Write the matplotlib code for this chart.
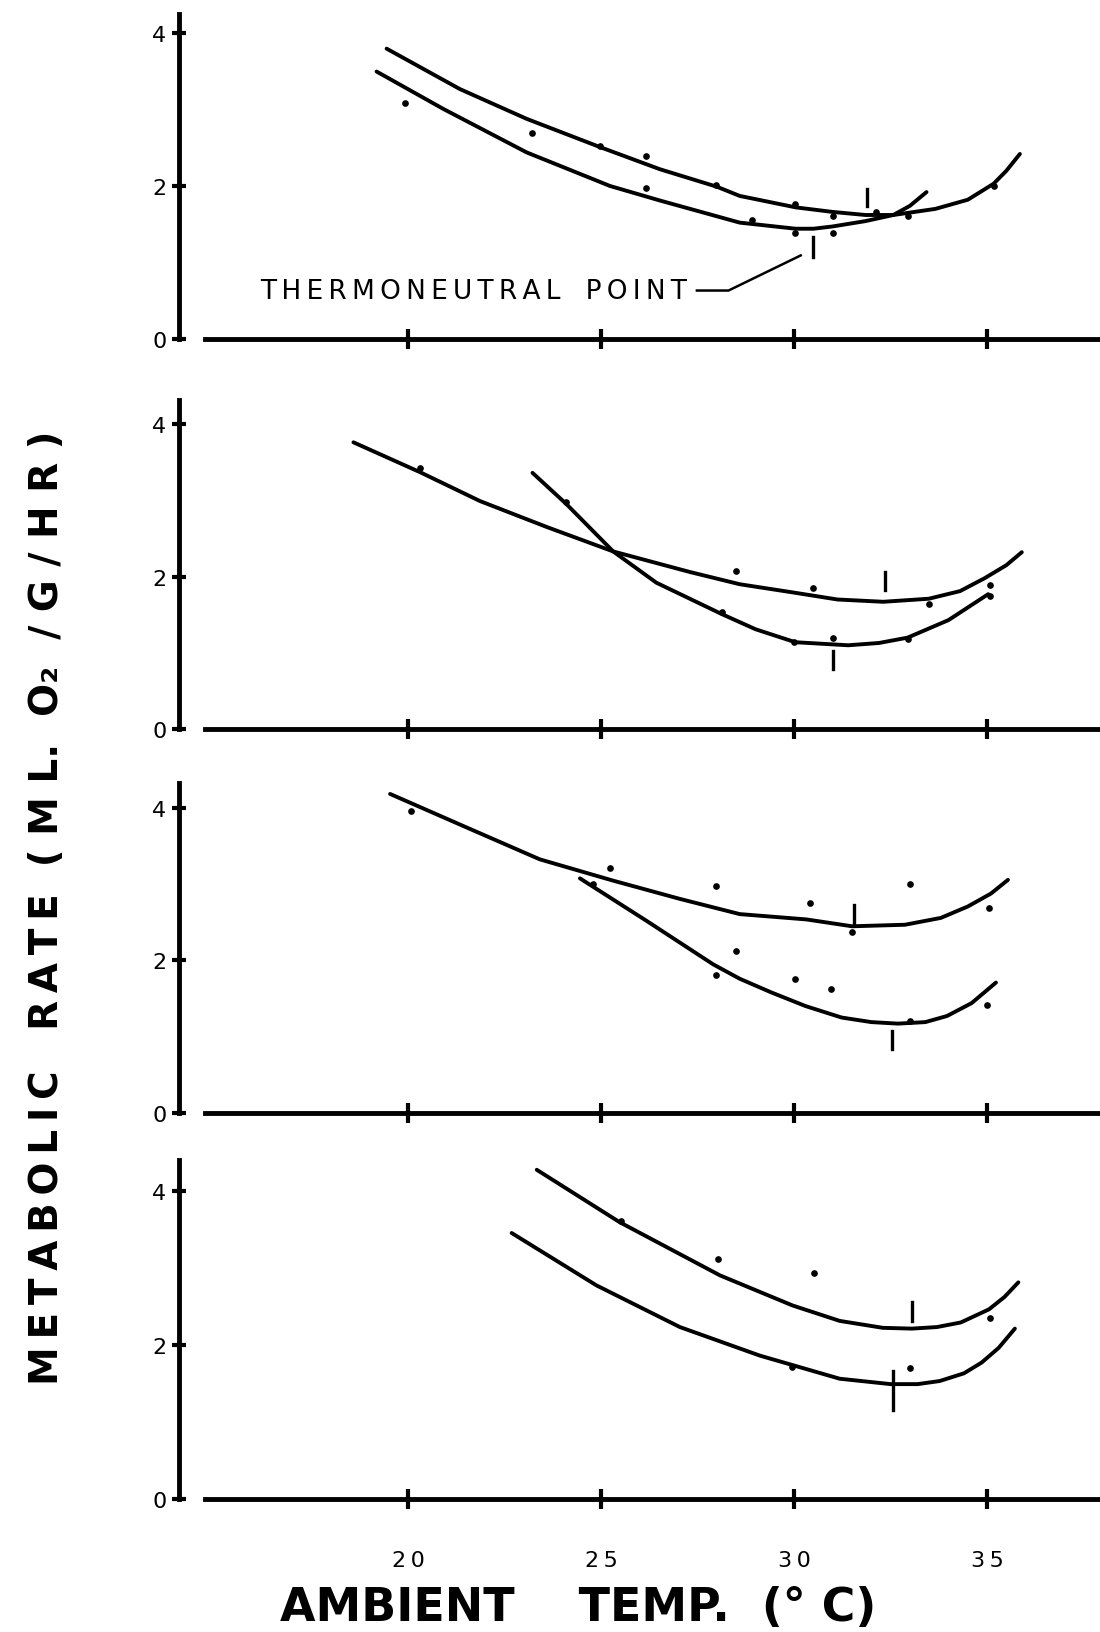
import numpy as np
import matplotlib
matplotlib.use("Agg")
from matplotlib import pyplot as plt

plt.rcParams['font.family'] = ['DejaVu Sans']

# x ticks shared by every panel
x_ticks = [20, 25, 30, 35]
x_tick_labels = ["20", "25", "30", "35"]
y_ticks = [0, 2, 4]

# panel 1 (top)
p1_upper_x = [19.44, 21.34, 23.07, 24.97, 26.52, 28.0, 28.59, 30.04, 31.0, 31.85, 32.57, 33.66, 34.5, 35.17, 35.5, 35.85]
p1_upper_y = [3.80, 3.27, 2.88, 2.51, 2.22, 1.99, 1.87, 1.72, 1.66, 1.62, 1.62, 1.70, 1.82, 2.03, 2.20, 2.42]
p1_lower_x = [19.18, 20.91, 23.07, 25.23, 26.52, 28.59, 30.04, 30.5, 31.0, 31.85, 32.57, 33.0, 33.43]
p1_lower_y = [3.50, 3.01, 2.44, 2.00, 1.81, 1.52, 1.44, 1.44, 1.47, 1.54, 1.62, 1.74, 1.92]
p1_pts_x = [19.91, 23.21, 24.98, 26.15, 26.16, 27.97, 28.9, 30.02, 30.02, 31.0, 31.0, 32.12, 32.94, 35.17]
p1_pts_y = [3.09, 2.70, 2.53, 2.39, 1.98, 2.01, 1.55, 1.76, 1.39, 1.61, 1.39, 1.66, 1.61, 2.00]
p1_tn_x = [31.9, 30.5]
p1_tn_lo = [1.74, 1.07]
p1_tn_hi = [1.96, 1.33]

# panel 2
p2_long_x = [18.58, 20.30, 21.86, 23.59, 25.31, 27.30, 28.59, 30.0, 31.12, 32.31, 33.49, 34.3, 34.94, 35.5, 35.9]
p2_long_y = [3.76, 3.37, 2.99, 2.65, 2.33, 2.06, 1.90, 1.79, 1.70, 1.67, 1.71, 1.81, 1.98, 2.15, 2.32]
p2_steep_x = [23.22, 24.10, 25.31, 26.43, 28.12, 29.0, 30.03, 31.4, 32.2, 32.94, 34.0, 35.03]
p2_steep_y = [3.36, 2.95, 2.33, 1.92, 1.51, 1.31, 1.14, 1.10, 1.13, 1.20, 1.43, 1.77]
p2_pts_x = [20.30, 24.09, 28.49, 30.49, 28.13, 30.0, 31.02, 32.95, 33.5, 35.07, 35.07]
p2_pts_y = [3.42, 2.98, 2.07, 1.85, 1.53, 1.14, 1.20, 1.18, 1.64, 1.89, 1.75]
p2_tn_x = [32.35, 31.02]
p2_tn_lo = [1.82, 0.79]
p2_tn_hi = [2.06, 1.03]

# panel 3
p3_upper_x = [19.53, 21.6, 23.41, 25.31, 27.04, 28.59, 30.32, 31.5, 32.87, 33.8, 34.5, 35.1, 35.54]
p3_upper_y = [4.19, 3.73, 3.33, 3.05, 2.81, 2.61, 2.54, 2.45, 2.47, 2.56, 2.71, 2.88, 3.06]
p3_lower_x = [24.45, 26.18, 27.9, 28.59, 29.41, 30.3, 31.23, 32.0, 32.69, 33.4, 33.96, 34.6, 35.23]
p3_lower_y = [3.08, 2.52, 1.95, 1.76, 1.58, 1.40, 1.25, 1.19, 1.17, 1.19, 1.27, 1.44, 1.71]
p3_pts_x = [20.06, 25.24, 24.79, 27.97, 30.41, 33.01, 35.05, 31.5, 28.49, 27.97, 30.01, 30.95, 33.01, 35.01]
p3_pts_y = [3.97, 3.21, 3.01, 2.98, 2.76, 3.01, 2.69, 2.38, 2.13, 1.81, 1.76, 1.62, 1.21, 1.41]
p3_tn_x = [31.54, 32.53]
p3_tn_lo = [2.49, 0.83]
p3_tn_hi = [2.73, 1.07]

# panel 4 (bottom)
p4_upper_x = [23.33, 25.48, 28.08, 29.96, 31.18, 32.3, 33.05, 33.7, 34.32, 35.05, 35.45, 35.81]
p4_upper_y = [4.27, 3.59, 2.90, 2.51, 2.31, 2.22, 2.21, 2.23, 2.29, 2.46, 2.62, 2.81]
p4_lower_x = [22.68, 24.88, 27.04, 29.11, 31.18, 32.5, 33.2, 33.77, 34.4, 34.86, 35.3, 35.72]
p4_lower_y = [3.45, 2.77, 2.23, 1.86, 1.56, 1.49, 1.49, 1.53, 1.63, 1.77, 1.96, 2.21]
p4_pts_x = [25.51, 28.02, 30.52, 35.08, 33.01, 29.94]
p4_pts_y = [3.61, 3.11, 2.93, 2.35, 1.70, 1.71]
p4_tn_x = [33.05, 32.55]
p4_tn_lo = [2.31, 1.15]
p4_tn_hi = [2.55, 1.66]

panels = [
    ([(p1_upper_x, p1_upper_y), (p1_lower_x, p1_lower_y)], (p1_pts_x, p1_pts_y), (p1_tn_x, p1_tn_lo, p1_tn_hi)),
    ([(p2_long_x, p2_long_y), (p2_steep_x, p2_steep_y)], (p2_pts_x, p2_pts_y), (p2_tn_x, p2_tn_lo, p2_tn_hi)),
    ([(p3_upper_x, p3_upper_y), (p3_lower_x, p3_lower_y)], (p3_pts_x, p3_pts_y), (p3_tn_x, p3_tn_lo, p3_tn_hi)),
    ([(p4_upper_x, p4_upper_y), (p4_lower_x, p4_lower_y)], (p4_pts_x, p4_pts_y), (p4_tn_x, p4_tn_lo, p4_tn_hi)),
]

# pixel placement of each panel: zero line (px from top) and px per unit
W, H = 1100, 1633
zero_px = [339.6, 730.2, 1113.6, 1500.0]
ppu = [76.3, 76.3, 76.05, 77.1]
axis_top = [4.25, 4.31, 4.33, 4.4]
XMIN, XMAX = 14.06, 37.9
YMIN, YMAX = -0.12, 4.45
left_px = 179.0
right_px = 1099.0

fig = plt.figure(figsize=(W / 100, H / 100), dpi=100)

thin = "\u2009"
tn_label = thin.join("THERMONEUTRAL") + "   " + thin.join("POINT")

for i, (curves, pts, tn) in enumerate(panels):
    bot = zero_px[i] - YMIN * ppu[i]
    top = zero_px[i] - YMAX * ppu[i]
    ax = fig.add_axes([left_px / W, 1 - bot / H, (right_px - left_px) / W, (bot - top) / H])
    ax.set_xlim(XMIN, XMAX)
    ax.set_ylim(YMIN, YMAX)
    for cx, cy in curves:
        ax.plot(cx, cy, color='black', lw=2.8, solid_capstyle='round', solid_joinstyle='round')
    ax.plot(pts[0], pts[1], 'o', color='black', ms=3.8)
    for tx, lo, hi in zip(*tn):
        ax.plot([tx, tx], [lo, hi], color='black', lw=2.4)

    for s in ['top', 'right']:
        ax.spines[s].set_visible(False)
    ax.spines['left'].set_linewidth(3.5)
    ax.spines['bottom'].set_linewidth(3.5)
    ax.spines['left'].set_bounds(0, axis_top[i])
    ax.spines['bottom'].set_bounds(14.73, XMAX)
    ax.spines['bottom'].set_position(('data', 0))
    ax.set_xticks(x_ticks)
    ax.set_yticks(y_ticks)
    ax.tick_params(axis='x', direction='inout', length=14, width=3, pad=30, labelsize=16)
    ax.tick_params(axis='y', direction='inout', length=10, width=3, pad=4, labelsize=16)
    ax.set_yticklabels([str(v) for v in y_ticks])
    if i == 3:
        ax.set_xticklabels([thin.join(s) for s in x_tick_labels])
    else:
        ax.set_xticklabels([])
    ax.patch.set_visible(False)

    if i == 0:
        ax.text(16.15, 0.62, tn_label, fontsize=19, va='center', ha='left')
        ax.plot([27.48, 28.3, 30.17], [0.63, 0.63, 1.09], color='black', lw=1.8)

fig.text(578 / W, 1 - 1609 / H, "AMBIENT    TEMP.  (° C)", fontsize=33, fontweight='bold',
         ha='center', va='center')
ylab = thin.join("METABOLIC") + "   " + thin.join("RATE") + "  " + "( M L.  O₂  / G / H R )"
fig.text(47 / W, 1 - 908 / H, ylab,
         fontsize=28, fontweight='bold', rotation=90, ha='center', va='center')

fig.savefig("out.png", dpi=100)
